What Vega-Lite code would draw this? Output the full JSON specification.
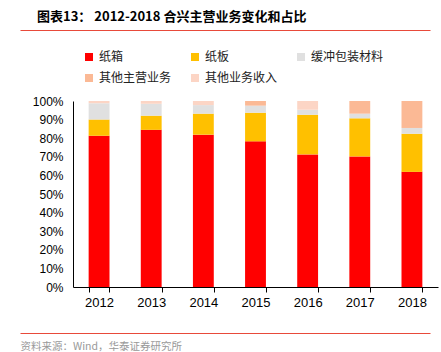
{
  "$schema": "https://vega.github.io/schema/vega-lite/v6.json",
  "autosize": "none",
  "width": 365,
  "height": 186,
  "padding": {"left": 73, "top": 101, "right": 3, "bottom": 65},
  "background": "white",
  "title": {
    "text": "图表13：  2012-2018 合兴主营业务变化和占比",
    "anchor": "start",
    "frame": "group",
    "dx": -36,
    "font": "Noto Sans CJK SC",
    "fontSize": 13,
    "fontWeight": "bold",
    "color": "#000000",
    "offset": 6
  },
  "config": {
    "view": {"stroke": null},
    "font": "Liberation Sans"
  },
  "data": {
    "values": [
      {"year": "2012", "type": "纸箱", "ord": 1, "share": 0.813},
      {"year": "2012", "type": "纸板", "ord": 2, "share": 0.087},
      {"year": "2012", "type": "缓冲包装材料", "ord": 3, "share": 0.088},
      {"year": "2012", "type": "其他主营业务", "ord": 4, "share": 0.0},
      {"year": "2012", "type": "其他业务收入", "ord": 5, "share": 0.012},
      {"year": "2013", "type": "纸箱", "ord": 1, "share": 0.845},
      {"year": "2013", "type": "纸板", "ord": 2, "share": 0.076},
      {"year": "2013", "type": "缓冲包装材料", "ord": 3, "share": 0.064},
      {"year": "2013", "type": "其他主营业务", "ord": 4, "share": 0.0},
      {"year": "2013", "type": "其他业务收入", "ord": 5, "share": 0.015},
      {"year": "2014", "type": "纸箱", "ord": 1, "share": 0.819},
      {"year": "2014", "type": "纸板", "ord": 2, "share": 0.113},
      {"year": "2014", "type": "缓冲包装材料", "ord": 3, "share": 0.046},
      {"year": "2014", "type": "其他主营业务", "ord": 4, "share": 0.0},
      {"year": "2014", "type": "其他业务收入", "ord": 5, "share": 0.022},
      {"year": "2015", "type": "纸箱", "ord": 1, "share": 0.783},
      {"year": "2015", "type": "纸板", "ord": 2, "share": 0.154},
      {"year": "2015", "type": "缓冲包装材料", "ord": 3, "share": 0.038},
      {"year": "2015", "type": "其他主营业务", "ord": 4, "share": 0.025},
      {"year": "2015", "type": "其他业务收入", "ord": 5, "share": 0.0},
      {"year": "2016", "type": "纸箱", "ord": 1, "share": 0.713},
      {"year": "2016", "type": "纸板", "ord": 2, "share": 0.213},
      {"year": "2016", "type": "缓冲包装材料", "ord": 3, "share": 0.027},
      {"year": "2016", "type": "其他主营业务", "ord": 4, "share": 0.0},
      {"year": "2016", "type": "其他业务收入", "ord": 5, "share": 0.047},
      {"year": "2017", "type": "纸箱", "ord": 1, "share": 0.702},
      {"year": "2017", "type": "纸板", "ord": 2, "share": 0.205},
      {"year": "2017", "type": "缓冲包装材料", "ord": 3, "share": 0.025},
      {"year": "2017", "type": "其他主营业务", "ord": 4, "share": 0.068},
      {"year": "2017", "type": "其他业务收入", "ord": 5, "share": 0.0},
      {"year": "2018", "type": "纸箱", "ord": 1, "share": 0.619},
      {"year": "2018", "type": "纸板", "ord": 2, "share": 0.205},
      {"year": "2018", "type": "缓冲包装材料", "ord": 3, "share": 0.031},
      {"year": "2018", "type": "其他主营业务", "ord": 4, "share": 0.145},
      {"year": "2018", "type": "其他业务收入", "ord": 5, "share": 0.0}
    ]
  },
  "layer": [
    {
      "mark": {"type": "bar"},
      "encoding": {
        "x": {
          "field": "year",
          "type": "ordinal",
          "scale": {"paddingInner": 0.6, "paddingOuter": 0.3},
          "axis": {
            "title": null,
            "labelAngle": 0,
            "labelFont": "Liberation Sans",
            "labelFontSize": 13,
            "labelColor": "#000000",
            "labelPadding": 4,
            "domainColor": "#000000",
            "tickColor": "#000000",
            "tickSize": 5,
            "tickBand": "extent"
          }
        },
        "y": {
          "field": "share",
          "type": "quantitative",
          "stack": "zero",
          "scale": {"domain": [0, 1], "nice": false},
          "axis": {
            "title": null,
            "format": ".0%",
            "values": [0, 0.1, 0.2, 0.3, 0.4, 0.5, 0.6, 0.7, 0.8, 0.9, 1.0],
            "grid": false,
            "ticks": false,
            "labelFont": "Liberation Sans",
            "labelFontSize": 12,
            "labelColor": "#000000",
            "labelPadding": 10,
            "domainColor": "#000000"
          }
        },
        "color": {
          "field": "type",
          "type": "nominal",
          "scale": {
            "domain": ["纸箱", "纸板", "缓冲包装材料", "其他主营业务", "其他业务收入"],
            "range": ["#FF0000", "#FFC000", "#E0E0E0", "#FBB995", "#FCD5C5"]
          },
          "legend": {
            "title": null,
            "orient": "none",
            "legendX": 10,
            "legendY": -50,
            "direction": "horizontal",
            "columns": 3,
            "symbolType": "square",
            "symbolSize": 64,
            "symbolStrokeWidth": 0,
            "labelFont": "Noto Sans CJK SC",
            "labelFontSize": 12,
            "labelColor": "#222222",
            "labelLimit": 200,
            "labelOffset": 4,
            "columnPadding": 17,
            "rowPadding": 9,
            "padding": 0
          }
        },
        "order": {"field": "ord", "type": "quantitative", "sort": "ascending"}
      }
    },
    {
      "mark": {"type": "tick", "opacity": 0},
      "encoding": {
        "x": {
          "field": "year",
          "type": "ordinal",
          "scale": {"range": [-53, 357]},
          "axis": {
            "orient": "top",
            "offset": 71,
            "labels": false,
            "ticks": false,
            "title": null,
            "domainColor": "#E84A3A",
            "domainWidth": 1.2
          }
        }
      }
    },
    {
      "mark": {"type": "tick", "opacity": 0},
      "encoding": {
        "x": {
          "field": "year",
          "type": "ordinal",
          "scale": {"range": [-53, 357]},
          "axis": {
            "orient": "bottom",
            "offset": 46,
            "labels": false,
            "ticks": false,
            "domainColor": "#E84A3A",
            "domainWidth": 1.2,
            "title": "资料来源：Wind，华泰证券研究所",
            "titleFont": "Noto Sans CJK SC",
            "titleFontSize": 10.5,
            "titleFontWeight": "normal",
            "titleColor": "#999999",
            "titleAlign": "left",
            "titleAnchor": "start",
            "titleX": -53,
            "titleY": 8,
            "titleBaseline": "top"
          }
        }
      }
    }
  ],
  "resolve": {"scale": {"x": "independent"}, "axis": {"x": "independent"}}
}
